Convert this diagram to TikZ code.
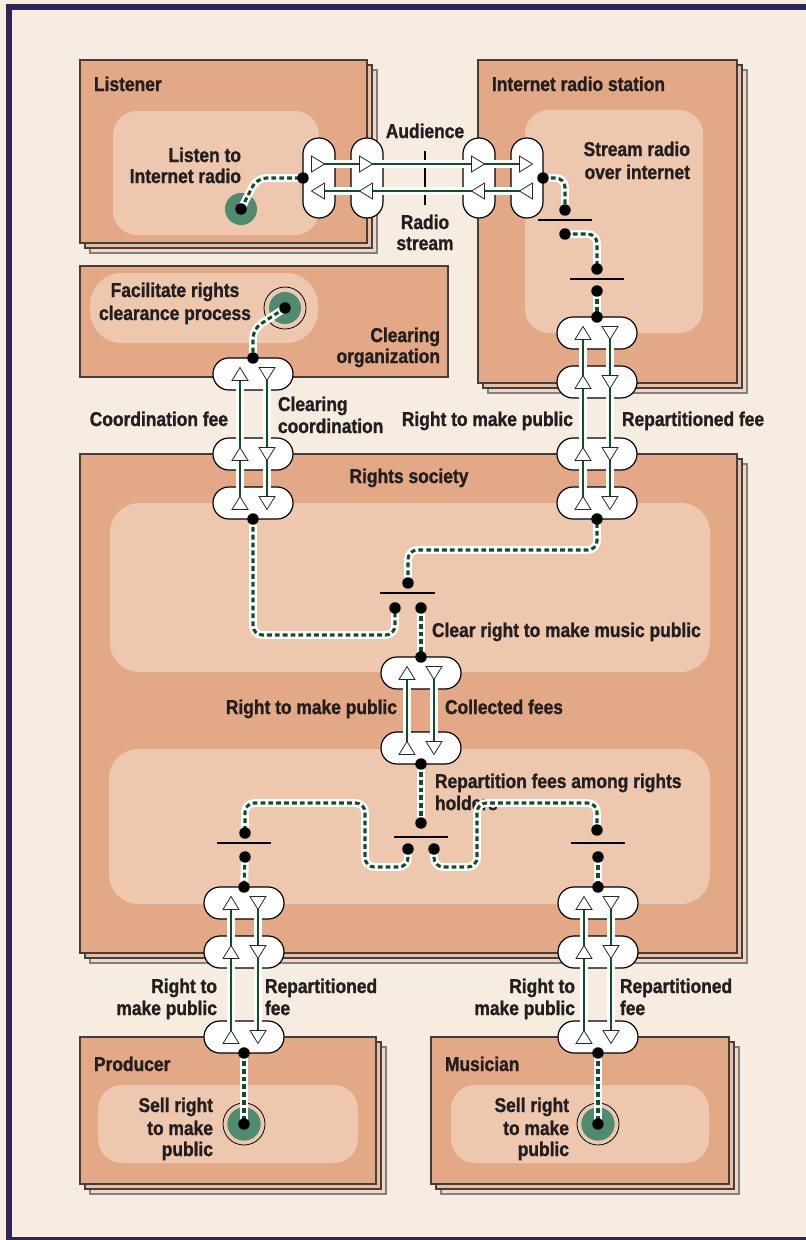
\documentclass[tikz,border=0pt]{standalone}
\usepackage{fontspec}
\setmainfont[FakeStretch=0.87,BoldFeatures={FakeBold=1.2}]{Liberation Sans}
\definecolor{bgc}{HTML}{F7ECE0}
\definecolor{navy}{HTML}{2E2558}
\definecolor{boxc}{HTML}{E3A885}
\definecolor{innerc}{HTML}{EEC8AE}
\definecolor{cpa}{HTML}{EBBD9E}
\definecolor{cpb}{HTML}{F2D6C2}
\definecolor{gcirc}{HTML}{4F8C6F}
\definecolor{dgreen}{HTML}{0B522C}
\definecolor{txt}{HTML}{231F20}
\newcommand\mystack[4]{%
  \draw[cpbs] (#1+10,#2+10) rectangle (#3+10,#4+10);
  \draw[cpas] (#1+5,#2+5) rectangle (#3+5,#4+5);
  \draw[mainbox] (#1,#2) rectangle (#3,#4);}
\tikzset{
  uptri/.pic={\draw[tri] (-8,6.5) -- (0,-6.5) -- (8,6.5) -- cycle;},
  dntri/.pic={\draw[tri] (-8,-6.5) -- (0,6.5) -- (8,-6.5) -- cycle;},
  rttri/.pic={\draw[tri] (-6.5,-8) -- (6.5,0) -- (-6.5,8) -- cycle;},
  lttri/.pic={\draw[tri] (6.5,-8) -- (-6.5,0) -- (6.5,8) -- cycle;},
}
\begin{document}
\begin{tikzpicture}[x=0.75pt,y=-0.75pt,
  every node/.style={inner sep=0pt,outer sep=0pt},
  lbl/.style={text=txt,font=\fontsize{15pt}{16.5pt}\selectfont\bfseries},
  mainbox/.style={fill=boxc,draw=black!75,line width=0.8pt},
  cpas/.style={fill=cpa,draw=black!75,line width=0.8pt},
  cpbs/.style={fill=cpb,draw=black!50,line width=0.8pt},
  innerbox/.style={fill=innerc,rounded corners=18pt},
  innerbig/.style={fill=innerc,rounded corners=22pt},
  hpill/.style={draw=black,line width=0.9pt,fill=white,rounded corners=11.9pt,minimum width=60pt,minimum height=24pt},
  vpill/.style={draw=black,line width=0.9pt,fill=white,rounded corners=11.9pt,minimum width=24pt,minimum height=60pt},
  conn/.style={draw=dgreen,line width=2.3pt,dash pattern=on 3.6pt off 2.3pt,rounded corners=7pt,
    preaction={draw=white,line width=5.8pt,solid}},
  arr/.style={draw=dgreen,line width=2.2pt,preaction={draw=white,line width=6.5pt}},
  tri/.style={draw=black!85,fill=white,line width=0.6pt,line join=miter},
  dotn/.style={circle,fill=black,minimum size=8.6pt,inner sep=0pt},
  jl/.style={draw=black,line width=0.8pt},
  gc/.style={fill=gcirc},
  ring/.style={draw=black,line width=0.6pt}]
\useasboundingbox (0,0) rectangle (806,1240);
% background and frame
\fill[bgc] (0,0) rectangle (806,1240);
\fill[navy] (6,4) rectangle (806,10);
\fill[navy] (6,4) rectangle (12,1240);
\fill[navy] (6,1237) rectangle (806,1240);
% boxes
\mystack{80}{60}{367}{243}
\mystack{478}{60}{737}{383}
\draw[mainbox] (80,266) rectangle (448,377);
\mystack{80}{454}{737}{953}
\mystack{80}{1037}{376}{1184}
\mystack{431}{1037}{729}{1184}
% inner areas
\fill[innerbox] (113,111) rectangle (319,235);
\fill[innerbox] (525,110) rectangle (703,333);
\fill[fill=innerc,rounded corners=24pt] (90,273) rectangle (318,343);
\fill[innerbig] (110,503) rectangle (710,672);
\fill[innerbig] (109,749) rectangle (710,904);
\fill[innerbox] (98,1085) rectangle (358,1163);
\fill[innerbox] (451,1085) rectangle (709,1163);
% coordinates
\coordinate (gL) at (241,209);
\coordinate (dL1) at (303,178);
\coordinate (kL) at (257,178);
\coordinate (dR1) at (543,178);
\coordinate (dR2) at (565,210);
\coordinate (dR3) at (565,234);
\coordinate (dR4) at (597,269);
\coordinate (dR5) at (597,291);
\coordinate (dR6) at (597,317);
\coordinate (gC) at (285,308);
\coordinate (kC) at (253,329);
\coordinate (dC1) at (253,358);
\coordinate (dS1) at (253,519);
\coordinate (kS1) at (395,635);
\coordinate (dS2) at (395,608);
\coordinate (dS3) at (408,583);
\coordinate (kS2) at (500,550);
\coordinate (dS4) at (597,519);
\coordinate (dS5) at (421,608);
\coordinate (dS6) at (421,657);
\coordinate (dS7) at (421,764);
\coordinate (dS8) at (421,823);
\coordinate (dS9) at (408,849);
\coordinate (dS10) at (434,849);
\coordinate (kA) at (365,867);
\coordinate (kB) at (365,803);
\coordinate (kC2) at (477,867);
\coordinate (kD) at (477,803);
\coordinate (dS11) at (245,833);
\coordinate (dS12) at (245,857);
\coordinate (dS13) at (244,887);
\coordinate (dS14) at (597,830);
\coordinate (dS15) at (598,857);
\coordinate (dS16) at (598,887);
\coordinate (dP1) at (244,1053);
\coordinate (gP) at (244,1124);
\coordinate (dM1) at (598,1053);
\coordinate (gM) at (598,1124);
% junction bars and tick
\draw[jl] (425,151) -- (425,205);
\draw[jl] (538,220) -- (592,220);
\draw[jl] (570,279) -- (624,279);
\draw[jl] (380,593) -- (435,593);
\draw[jl] (394,837) -- (448,837);
\draw[jl] (217,843) -- (271,843);
\draw[jl] (571,843) -- (625,843);
% green circles
\fill[gc] (gL) circle (12pt);
\draw[ring] (gC) circle (15.75pt);
\fill[gc] (gC) circle (12pt);
\draw[ring] (gP) circle (15.75pt);
\fill[gc] (gP) circle (12.5pt);
\draw[ring] (gM) circle (15.75pt);
\fill[gc] (gM) circle (12.5pt);
% labels
\node[lbl,anchor=base west] (tList) at (94,91) {Listener};
\node[lbl,anchor=base west] (tRadio) at (492,91) {Internet radio station};
\node[lbl,anchor=base east] (tLis1) at (241,162) {Listen to};
\node[lbl,anchor=base east] (tLis2) at (241,183) {Internet radio};
\node[lbl,anchor=base east] (tStr1) at (690,156) {Stream radio};
\node[lbl,anchor=base east] (tStr2) at (690,179) {over internet};
\node[lbl,anchor=base] (tAud) at (425,138) {Audience};
\node[lbl,anchor=base] (tRs1) at (425,229) {Radio};
\node[lbl,anchor=base] (tRs2) at (425,250) {stream};
\node[lbl,anchor=base] (tFac1) at (175,297) {Facilitate rights};
\node[lbl,anchor=base] (tFac2) at (175,320) {clearance process};
\node[lbl,anchor=base east] (tClo1) at (440,342) {Clearing};
\node[lbl,anchor=base east] (tClo2) at (440,363) {organization};
\node[lbl,anchor=base east] (tCf) at (228,426) {Coordination fee};
\node[lbl,anchor=base west] (tCc1) at (278,411) {Clearing};
\node[lbl,anchor=base west] (tCc2) at (278,433) {coordination};
\node[lbl,anchor=base east] (tRp1) at (573,426) {Right to make public};
\node[lbl,anchor=base west] (tRf1) at (622,426) {Repartitioned fee};
\node[lbl,anchor=base] (tRS) at (409,483) {Rights society};
\node[lbl,anchor=base west] (tClr) at (432,637) {Clear right to make music public};
\node[lbl,anchor=base west] (tCol) at (445,714) {Collected fees};
\node[lbl,anchor=base east] (tRp2) at (397,714) {Right to make public};
\node[lbl,anchor=base west] (tRep1) at (435,788) {Repartition fees among rights};
\node[lbl,anchor=base west] (tRep2) at (435,810) {holders};
\node[lbl,anchor=base east] (tPr1) at (217,993) {Right to};
\node[lbl,anchor=base east] (tPr2) at (217,1015) {make public};
\node[lbl,anchor=base west] (tPf1) at (265,993) {Repartitioned};
\node[lbl,anchor=base west] (tPf2) at (265,1015) {fee};
\node[lbl,anchor=base east] (tMr1) at (575,993) {Right to};
\node[lbl,anchor=base east] (tMr2) at (575,1015) {make public};
\node[lbl,anchor=base west] (tMf1) at (620,993) {Repartitioned};
\node[lbl,anchor=base west] (tMf2) at (620,1015) {fee};
\node[lbl,anchor=base west] (tProd) at (94,1071) {Producer};
\node[lbl,anchor=base west] (tMus) at (445,1071) {Musician};
\node[lbl,anchor=base east] (tSp1) at (213,1112) {Sell right};
\node[lbl,anchor=base east] (tSp2) at (213,1135) {to make};
\node[lbl,anchor=base east] (tSp3) at (213,1156) {public};
\node[lbl,anchor=base east] (tSm1) at (569,1112) {Sell right};
\node[lbl,anchor=base east] (tSm2) at (569,1135) {to make};
\node[lbl,anchor=base east] (tSm3) at (569,1156) {public};
% dashed connectors
\draw[conn] (gL) -- (kL) -- (dL1);
\draw[conn] (dR1) -| (dR2);
\draw[conn] (dR3) -| (dR4);
\draw[conn] (dR5) -- (dR6);
\draw[conn] (gC) -- (kC) -- (dC1);
\draw[conn] (dS1) |- (kS1) -- (dS2);
\draw[conn] (dS3) |- (kS2) -| (dS4);
\draw[conn] (dS5) -- (dS6);
\draw[conn] (dS7) -- (dS8);
\draw[conn] (dS9) |- (kA) -- (kB) -| (dS11);
\draw[conn] (dS10) |- (kC2) -- (kD) -| (dS14);
\draw[conn] (dS12) -- (dS13);
\draw[conn] (dS15) -- (dS16);
\draw[conn] (dP1) -- (gP);
\draw[conn] (dM1) -- (gM);
% pills
\node[vpill] (pL1) at (319,178) {};
\node[vpill] (pL2) at (367,178) {};
\node[vpill] (pL3) at (479,178) {};
\node[vpill] (pL4) at (527,178) {};
\node[hpill] (pC1) at (253,374) {};
\node[hpill] (pC2) at (253,454) {};
\node[hpill] (pC3) at (253,503) {};
\node[hpill] (pR1) at (597,333) {};
\node[hpill] (pR2) at (597,382) {};
\node[hpill] (pR3) at (597,454) {};
\node[hpill] (pR4) at (597,503) {};
\node[hpill] (pM1) at (421,673) {};
\node[hpill] (pM2) at (421,748) {};
\node[hpill] (pP1) at (244,903) {};
\node[hpill] (pP2) at (244,952) {};
\node[hpill] (pP3) at (244,1037) {};
\node[hpill] (pU1) at (598,903) {};
\node[hpill] (pU2) at (598,952) {};
\node[hpill] (pU3) at (598,1037) {};
% flow lines
\draw[arr] ([shift={(0,-14)}]pL1.center) -- ([shift={(0,-14)}]pL4.center);
\draw[arr] ([shift={(0,13)}]pL1.center) -- ([shift={(0,13)}]pL4.center);
\draw[arr] ([shift={(-13,0)}]pC3.center) -- ([shift={(-13,0)}]pC1.center);
\draw[arr] ([shift={(14,0)}]pC3.center) -- ([shift={(14,0)}]pC1.center);
\draw[arr] ([shift={(-14,0)}]pR4.center) -- ([shift={(-14,0)}]pR1.center);
\draw[arr] ([shift={(13,0)}]pR4.center) -- ([shift={(13,0)}]pR1.center);
\draw[arr] ([shift={(-14,0)}]pM2.center) -- ([shift={(-14,0)}]pM1.center);
\draw[arr] ([shift={(13,0)}]pM2.center) -- ([shift={(13,0)}]pM1.center);
\draw[arr] ([shift={(-13,0)}]pP3.center) -- ([shift={(-13,0)}]pP1.center);
\draw[arr] ([shift={(14,0)}]pP3.center) -- ([shift={(14,0)}]pP1.center);
\draw[arr] ([shift={(-14,0)}]pU3.center) -- ([shift={(-14,0)}]pU1.center);
\draw[arr] ([shift={(13,0)}]pU3.center) -- ([shift={(13,0)}]pU1.center);
% triangles
\foreach \p in {pL1,pL2,pL3,pL4}{
  \pic at ([shift={(-1,-14)}]\p.center) {rttri};
  \pic at ([shift={(-1,13)}]\p.center) {lttri};}
\foreach \p in {pC1,pC2,pC3}{
  \pic at ([shift={(-13,0)}]\p.center) {uptri};
  \pic at ([shift={(14,0)}]\p.center) {dntri};}
\foreach \p in {pP1,pP2,pP3}{
  \pic at ([shift={(-13,0)}]\p.center) {uptri};
  \pic at ([shift={(14,0)}]\p.center) {dntri};}
\foreach \p in {pR1,pR2,pR3,pR4,pM1,pM2,pU1,pU2,pU3}{
  \pic at ([shift={(-14,0)}]\p.center) {uptri};
  \pic at ([shift={(13,0)}]\p.center) {dntri};}
% dots
\foreach \c in {gL,dL1,dR1,dR2,dR3,dR4,dR5,dR6,gC,dC1,dS1,dS2,dS3,dS4,dS5,dS6,dS7,dS8,dS9,dS10,dS11,dS12,dS13,dS14,dS15,dS16,dP1,gP,dM1,gM}{
  \node[dotn] (n\c) at (\c) {};}
\end{tikzpicture}
\end{document}
